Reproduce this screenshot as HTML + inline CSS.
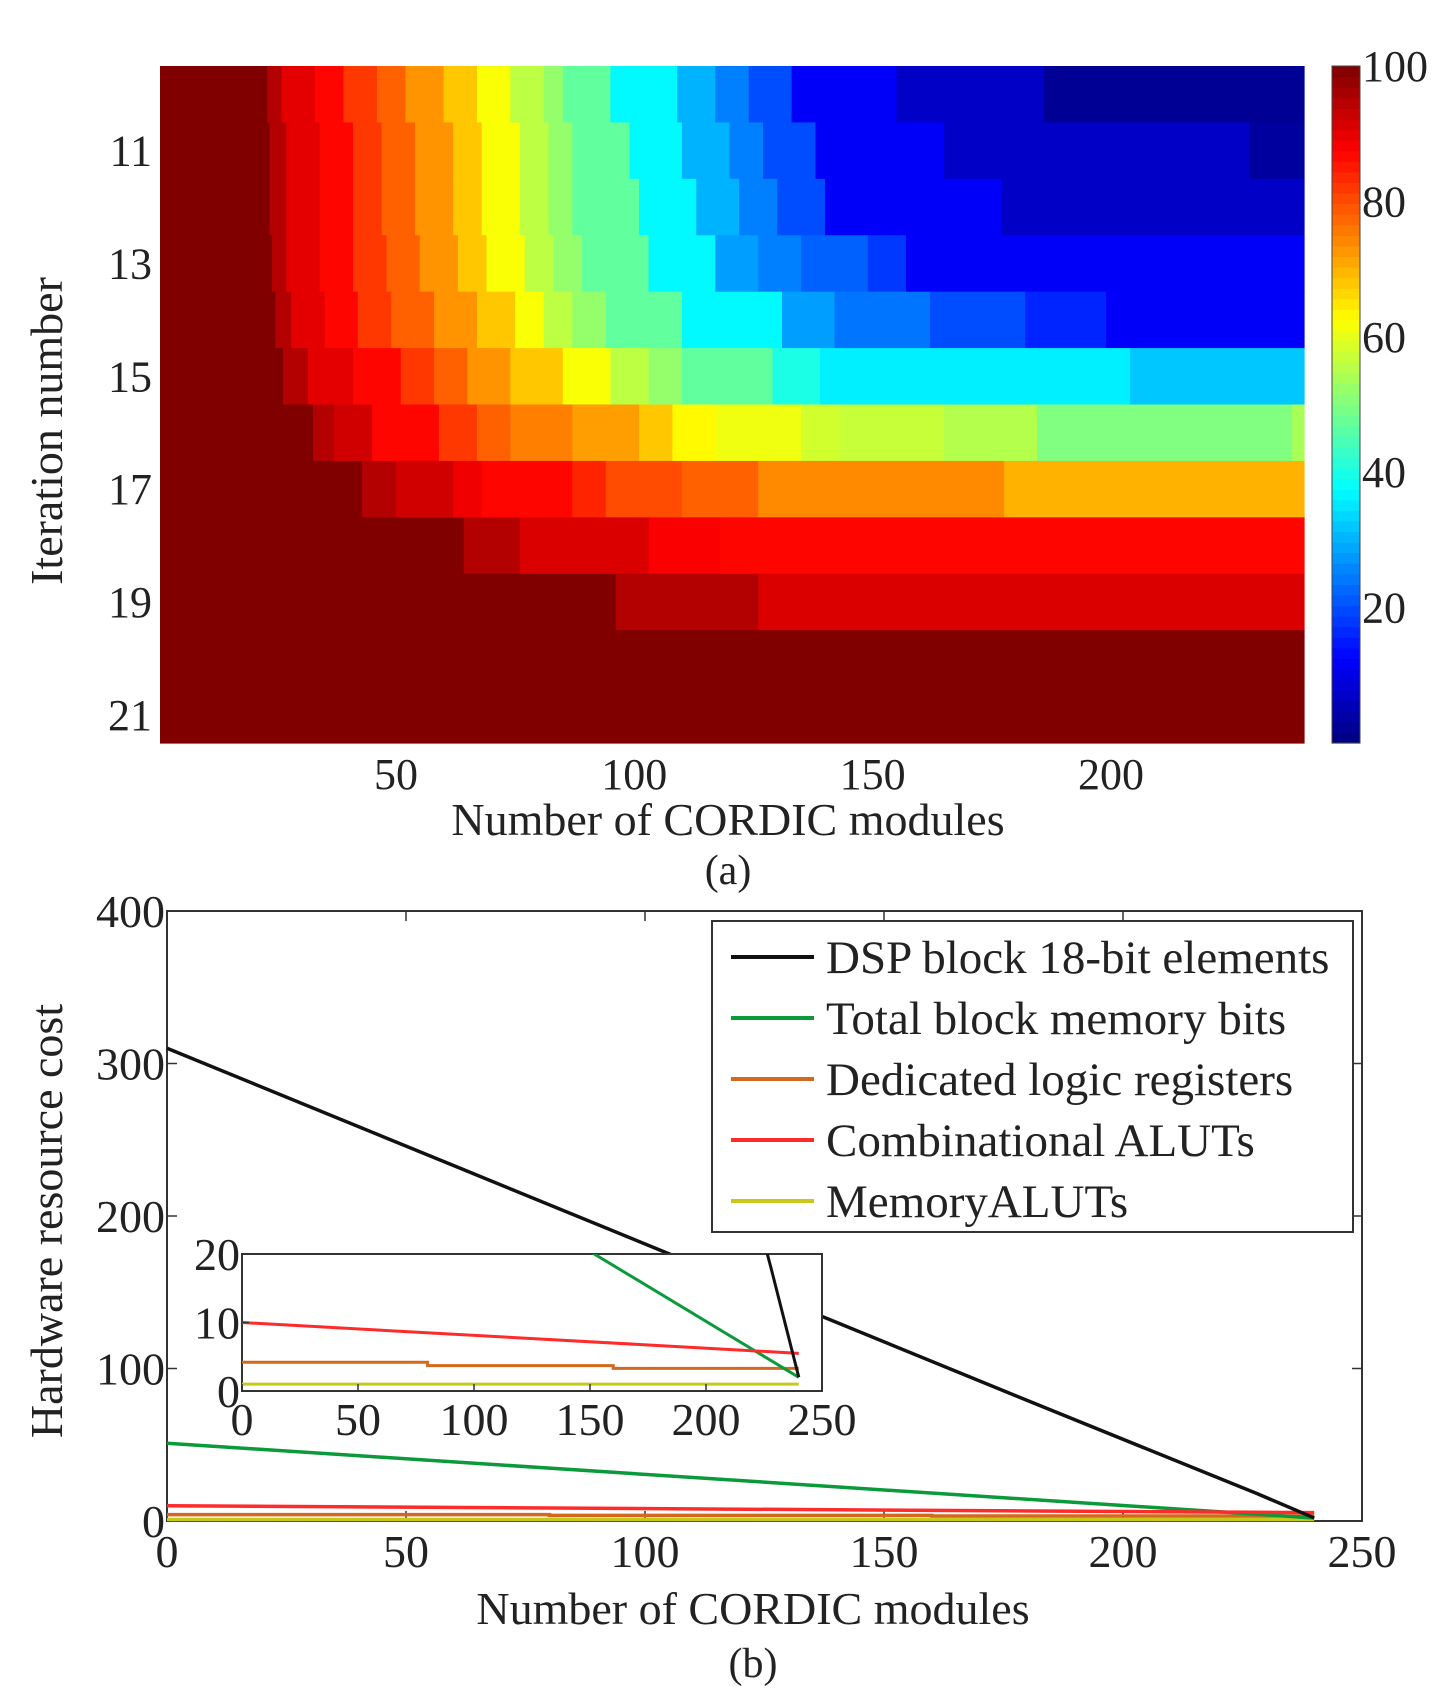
<!DOCTYPE html>
<html><head><meta charset="utf-8"><style>
html,body{margin:0;padding:0;background:#fff}
svg{display:block}
text{font-family:"Liberation Serif",serif;fill:#222}
</style></head><body>
<svg id="s" width="1452" height="1703" viewBox="0 0 1452 1703">
<g id="hm"></g>
<g id="lc"></g>
</svg>
<script>
// ---------- Panel (a) data ----------
const rowIters = [10,11,12,13,14,15,16,17,18,19,20,21];
const rowBounds = [
 [23,26,33,39,46,52,60,67,74,81,85,95,109,117,124,133,155,186,240.5],
 [23.5,27,34,41,47,54,62,68,76,82,87,99,110,120,127,138,165,229,240.5],
 [23.5,27,34,41,47,54,62,68,76,82,87,101,113,122,130,140,177,240.5],
 [24,27,34,41,48,55,63,69,77,83,89,103,117,126,135,149,157,240.5],
 [24.7,28,35,42,49,58,67,75,81,87,94,110,131,142,162,182,199,240.5],
 [26.3,31.5,41,51,58,65,74,85,95,103,110,129,139,204,240.5],
 [32.6,37,45,59,67,74,87,101,108,117,135,143,165,184.5,238,240.5],
 [42.9,50,62,68,87,94,110,126,177.6,240.5],
 [64.2,76,103,118,240.5],
 [96.1,126,240.5],
 [240.5],
 [240.5]
];
const rowValues = [
 [100,95,90,87,82,78,73,68,62,56,52,47,37,30,25,20,12,7,2],
 [100,95,90,87,82,78,73,68,62,56,52,47,37,30,25,20,12,7,3],
 [100,95,90,87,82,78,73,68,62,56,52,47,37,30,25,20,12,7],
 [100,95,90,87,82,78,73,68,62,56,52,47,37,28,25,22,18,12],
 [100,95,90,87,82,78,73,68,62,56,52,47,37,28,24,20,16,12],
 [100,95,90,87,82,78,73,68,62,56,52,47,40,36,32],
 [100,95,92,87,82,78,75,72,68,63,61,58,57,55,50,54],
 [100,95,92,89,87,84,80,78,74,70],
 [100,95,91,88,87],
 [100,95,91],
 [100],
 [100]
];
const xTicksA = [50,100,150,200];
const yTicksA = [11,13,15,17,19,21];
const cbTicks = [20,40,60,80,100];

// ---------- Panel (b) data ----------
const dspX = [0,60,120,180,228,240];
const dspY = [310,233,156,79,18,2];
const memBitsX = [0,240];
const memBitsY = [51,2];
const regX = [0,80,80,160,160,240];
const regY = [4.2,4.2,3.7,3.7,3.3,3.3];
const combX = [0,240];
const combY = [10,5.5];
const memAlutX = [0,240];
const memAlutY = [1,1];
const xTicksB = [0,50,100,150,200,250];
const yTicksB = [0,100,200,300,400];
const insetXTicks = [0,50,100,150,200,250];
const insetYTicks = [0,10,20];
const legendLabels = ["DSP block 18-bit elements","Total block memory bits","Dedicated logic registers","Combinational ALUTs","MemoryALUTs"];
const seriesColors = ["#111","#0a9a3a","#d2691e","#ff2a2a","#c8c81a"];

const NS="http://www.w3.org/2000/svg";
function mk(tag,attrs,parent){const e=document.createElementNS(NS,tag);for(const k in attrs)e.setAttribute(k,attrs[k]);parent.appendChild(e);return e;}
function jet(v){v=Math.max(0,Math.min(1,v));const c=x=>Math.round(255*Math.max(0,Math.min(1,x)));
 return `rgb(${c(1.5-Math.abs(4*v-3))},${c(1.5-Math.abs(4*v-2))},${c(1.5-Math.abs(4*v-1))})`;}

// ---------- draw panel (a) ----------
const hm=document.getElementById('hm');
const AL=160,AR=1304,AT=66,AB=743;
const ax=x=>AL+(x-0.5)*(AR-AL)/240;
const ay=r=>AT+(r-9.5)*(AB-AT)/12;
rowIters.forEach((it,i)=>{
  let x0=0.5;
  rowBounds[i].forEach((b,j)=>{
    const r=mk('rect',{x:ax(x0),y:ay(it-0.5),width:ax(b)-ax(x0)+0.6,height:ay(it+0.5)-ay(it-0.5)+0.6,fill:jet(rowValues[i][j]/100)},hm);
    
    
    x0=b;
  });
});
xTicksA.forEach(t=>{const e=mk('text',{x:ax(t),y:789,'font-size':44,'text-anchor':'middle'},hm);e.textContent=t;
 });
yTicksA.forEach(t=>{const e=mk('text',{x:152,y:ay(t)+15,'font-size':44,'text-anchor':'end'},hm);e.textContent=t;
 });
const CL=1332,CW=28;
const cy=v=>AB-(v/100)*(AB-AT);
for(let k=0;k<64;k++){const v0=k/64*100,v1=(k+1)/64*100;
 const r=mk('rect',{x:CL,y:cy(v1),width:CW,height:cy(v0)-cy(v1)+0.6,fill:jet((k+0.5)/64)},hm);
 }
mk('rect',{x:CL,y:AT,width:CW,height:AB-AT,fill:'none',stroke:'#444','stroke-width':1},hm);
cbTicks.forEach(t=>{const e=mk('text',{x:CL+30,y:cy(t)+15,'font-size':44},hm);e.textContent=t;
 });
let t1=mk('text',{x:728,y:835,'font-size':46,'text-anchor':'middle'},hm);t1.textContent='Number of CORDIC modules';

let t2=mk('text',{x:0,y:0,'font-size':46,'text-anchor':'middle',transform:'translate(62,431) rotate(-90)'},hm);t2.textContent='Iteration number';

let t3=mk('text',{x:728,y:884,'font-size':42,'text-anchor':'middle'},hm);t3.textContent='(a)';


// ---------- draw panel (b) ----------
const lc=document.getElementById('lc');
const BL=167,BR=1362,BT=911,BB=1521;
const bx=x=>BL+x/250*(BR-BL);
const by=y=>BB-y/400*(BB-BT);
mk('rect',{x:BL,y:BT,width:BR-BL,height:BB-BT,fill:'#fff',stroke:'#333','stroke-width':2},lc);
xTicksB.forEach(t=>{mk('line',{x1:bx(t),x2:bx(t),y1:BB,y2:BB-10,stroke:'#333','stroke-width':1.5},lc);
 mk('line',{x1:bx(t),x2:bx(t),y1:BT,y2:BT+10,stroke:'#333','stroke-width':1.5},lc);
 const e=mk('text',{x:bx(t),y:BB+46,'font-size':46,'text-anchor':'middle'},lc);e.textContent=t;
 });
yTicksB.forEach(t=>{mk('line',{x1:BL,x2:BL+10,y1:by(t),y2:by(t),stroke:'#333','stroke-width':1.5},lc);
 mk('line',{x1:BR,x2:BR-10,y1:by(t),y2:by(t),stroke:'#333','stroke-width':1.5},lc);
 const e=mk('text',{x:BL-2,y:by(t)+16,'font-size':46,'text-anchor':'end'},lc);e.textContent=t;
 });
const seriesX=[dspX,memBitsX,regX,combX,memAlutX], seriesY=[dspY,memBitsY,regY,combY,memAlutY];
const drawOrder=[4,2,1,3,0];
function poly(xs,ys,fx,fy,col,w,parent,name){
  const p=mk('polyline',{points:xs.map((x,i)=>fx(x)+','+fy(ys[i])).join(' '),fill:'none',stroke:col,'stroke-width':w},parent);
  }
const names=['dsp-line','block-memory-line','logic-registers-line','combinational-aluts-line','memory-aluts-line'];
drawOrder.forEach(i=>poly(seriesX[i],seriesY[i],bx,by,seriesColors[i],3.5,lc,names[i]));
const lg=mk('g',{},lc);
mk('rect',{x:712,y:921,width:641,height:311,fill:'#fff',stroke:'#333','stroke-width':2},lg);
legendLabels.forEach((l,i)=>{const y=957+i*61;
 mk('line',{x1:731,x2:814,y1:y,y2:y,stroke:seriesColors[i],'stroke-width':4},lg);
 const e=mk('text',{x:826,y:y+16,'font-size':47},lg);e.textContent=l;
 });
const IL=242,IR=822,IT=1254,IB=1391;
const ix=x=>IL+x/250*(IR-IL);
const iy=y=>IB-y/20*(IB-IT);
const ins=mk('g',{},lc);
mk('rect',{x:IL,y:IT,width:IR-IL,height:IB-IT,fill:'#fff',stroke:'#333','stroke-width':2},ins);
mk('clipPath',{id:'ic'},ins);
mk('rect',{x:IL,y:IT,width:IR-IL,height:IB-IT},document.getElementById('ic'));
const ig=mk('g',{'clip-path':'url(#ic)'},ins);
drawOrder.forEach(i=>poly(seriesX[i],seriesY[i],ix,iy,seriesColors[i],3,ig,'inset-'+names[i]));
insetXTicks.forEach(t=>{mk('line',{x1:ix(t),x2:ix(t),y1:IB,y2:IB-7,stroke:'#333','stroke-width':1.5},ins);
 const e=mk('text',{x:ix(t),y:IB+44,'font-size':46,'text-anchor':'middle'},ins);e.textContent=t;
 });
insetYTicks.forEach(t=>{mk('line',{x1:IL,x2:IL+7,y1:iy(t),y2:iy(t),stroke:'#333','stroke-width':1.5},ins);
 const e=mk('text',{x:IL-2,y:iy(t)+16,'font-size':46,'text-anchor':'end'},ins);e.textContent=t;
 });
let b1=mk('text',{x:753,y:1624,'font-size':46,'text-anchor':'middle'},lc);b1.textContent='Number of CORDIC modules';

let b2=mk('text',{x:0,y:0,'font-size':46,'text-anchor':'middle',transform:'translate(62,1221) rotate(-90)'},lc);b2.textContent='Hardware resource cost';

let b3=mk('text',{x:753,y:1677,'font-size':42,'text-anchor':'middle'},lc);b3.textContent='(b)';

</script>
</body></html>
